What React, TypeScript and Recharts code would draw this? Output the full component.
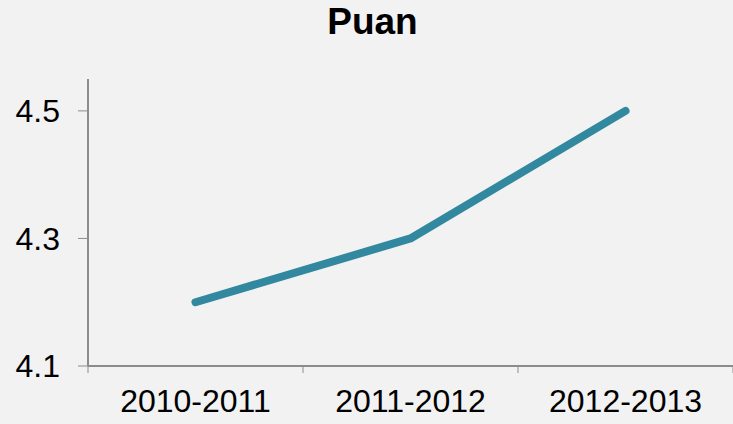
import { LineChart, Line, XAxis, YAxis } from "recharts";

const seasons = ["2010-2011", "2011-2012", "2012-2013"];
const scores = [4.2, 4.3, 4.5];
const yTicks = [4.1, 4.3, 4.5];

// categories sit in the middle of unit bands; tick marks go on the band edges
const data = seasons.map((season, i) => ({ season, pos: i + 0.5, puan: scores[i] }));
const xTicks = [0, ...data.flatMap((d, i) => [d.pos, i + 1])];

const AXIS_GRAY = "#8c8c8c";
const FONT = "'Liberation Sans', Arial, Helvetica, sans-serif";

function SeasonTick(props: any) {
    const { x, y, payload } = props;
    const v = payload.value as number;
    if (Number.isInteger(v)) {
        return <line x1={x} x2={x} y1={y - 9} y2={y - 1} stroke={AXIS_GRAY} strokeWidth={1} />;
    }
    const label = data.find((d) => d.pos === v)?.season ?? "";
    return (
        <text x={x} y={y + 38} textAnchor="middle" fill="#000" fontSize={32} fontFamily={FONT}>
            {label}
        </text>
    );
}

export default function App() {
    return (
        <div
            style={{
                position: "absolute",
                left: 0,
                top: 0,
                width: 733,
                height: 424,
                background: "#f2f2f2",
                fontFamily: FONT,
            }}
        >
            <div
                style={{
                    position: "absolute",
                    left: 0,
                    top: 0,
                    width: 745,
                    textAlign: "center",
                    fontSize: 37,
                    fontWeight: "bold",
                    lineHeight: "44px",
                    color: "#000",
                }}
            >
                Puan
            </div>
            <LineChart
                width={733}
                height={424}
                data={data}
                margin={{ top: 79, right: 0, bottom: 0, left: 0 }}
            >
                <XAxis
                    type="number"
                    dataKey="pos"
                    domain={[0, seasons.length]}
                    ticks={xTicks}
                    interval={0}
                    height={58}
                    tickLine={false}
                    axisLine={{ stroke: AXIS_GRAY, strokeWidth: 2 }}
                    tick={<SeasonTick />}
                />
                <YAxis
                    width={88}
                    domain={[4.1, 4.55]}
                    ticks={yTicks}
                    allowDataOverflow
                    stroke={AXIS_GRAY}
                    tickSize={10}
                    axisLine={{ stroke: AXIS_GRAY, strokeWidth: 2 }}
                    tick={{ fill: "#000", fontSize: 32, fontFamily: FONT, dx: -16 }}
                    tickFormatter={(v: number) => v.toFixed(1)}
                />
                <Line
                    type="linear"
                    dataKey="puan"
                    stroke="#32889f"
                    strokeWidth={8}
                    strokeLinecap="round"
                    strokeLinejoin="round"
                    dot={false}
                    activeDot={false}
                    isAnimationActive={false}
                />
            </LineChart>
        </div>
    );
}
